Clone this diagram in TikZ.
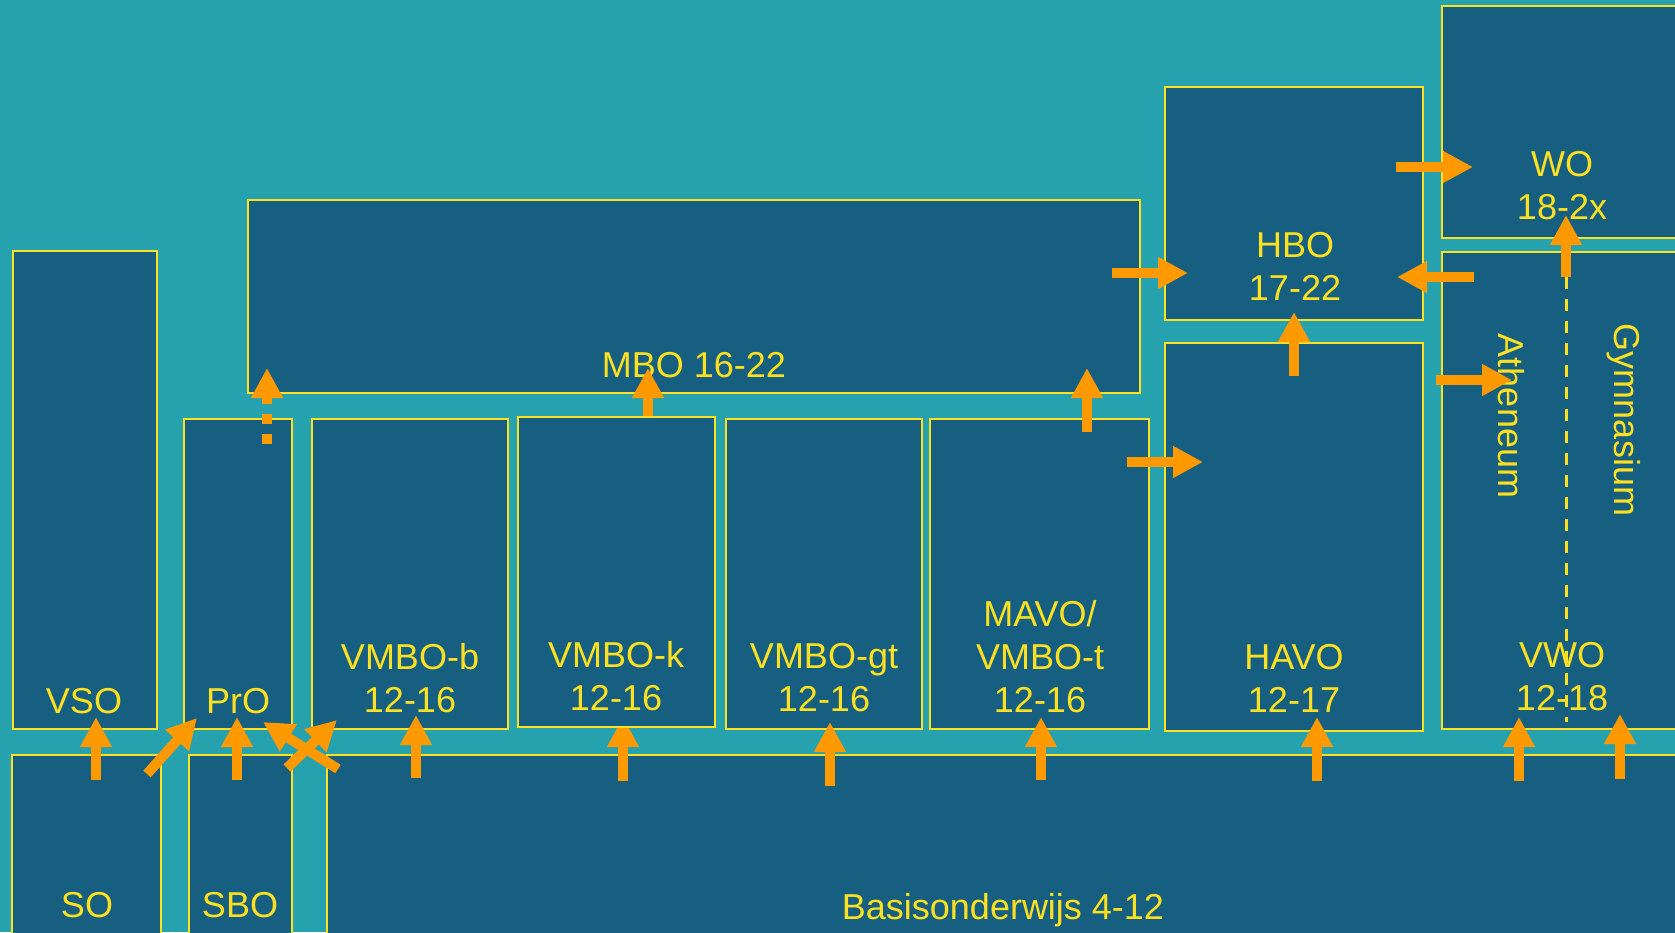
\documentclass[tikz,border=0pt]{standalone}
\usepackage{fontspec}
\setmainfont{Liberation Sans}
\usetikzlibrary{arrows.meta,calc}
\definecolor{bgteal}{HTML}{26A1AE}
\definecolor{boxblue}{HTML}{165F80}
\definecolor{ylw}{HTML}{FDE021}
\definecolor{org}{HTML}{FF9900}
\begin{document}
\begin{tikzpicture}[x=1pt,y=-1pt,
  box/.style={draw=ylw, fill=boxblue, line width=1.5pt, inner sep=0pt, outer sep=0pt},
  thickbox/.style={box, line width=2.6pt},
  lbl/.style={text=ylw, font=\fontsize{36}{43}\selectfont, inner sep=0pt, align=center},
  arr/.style={draw=org, line width=10pt, -{Triangle[width=30pt,length=30pt]}},
  dotarr/.style={arr, dash pattern=on 10pt off 10pt},
  vline/.style={draw=ylw, line width=3pt, dash pattern=on 12pt off 10pt}]
\useasboundingbox (0,0) rectangle (1675,932);
\clip (0,0) rectangle (1675,932);
\fill[bgteal] (0,0) rectangle (1675,932);

% arrow end points
\coordinate (a1s) at (96,780);   \coordinate (a1e) at (96,717);
\coordinate (a2s) at (147,774);  \coordinate (a2e) at (197,718);
\coordinate (a3s) at (237,780);  \coordinate (a3e) at (237,717);
\coordinate (a4s) at (338,769);  \coordinate (a4e) at (263,722);
\coordinate (a5s) at (287,768);  \coordinate (a5e) at (337,720);
\coordinate (a6s) at (416,778);  \coordinate (a6e) at (416,715);
\coordinate (a7s) at (623,781);  \coordinate (a7e) at (623,717);
\coordinate (a8s) at (830,786);  \coordinate (a8e) at (830,722);
\coordinate (a9s) at (1041,780); \coordinate (a9e) at (1041,717);
\coordinate (a10s) at (1317,781); \coordinate (a10e) at (1317,717);
\coordinate (a11s) at (1519,781); \coordinate (a11e) at (1519,717);
\coordinate (a12s) at (1620,779); \coordinate (a12e) at (1620,714);
\coordinate (b1s) at (267,444);  \coordinate (b1e) at (267,368);
\coordinate (b2s) at (648,416);  \coordinate (b2e) at (648,368);
\coordinate (b3s) at (1087,432); \coordinate (b3e) at (1087,368);
\coordinate (b4s) at (1112,273); \coordinate (b4e) at (1188,273);
\coordinate (b5s) at (1127,462); \coordinate (b5e) at (1203,462);
\coordinate (b6s) at (1294,376); \coordinate (b6e) at (1294,312);
\coordinate (b7s) at (1396,167); \coordinate (b7e) at (1473,167);
\coordinate (b8s) at (1474,277); \coordinate (b8e) at (1397,277);
\coordinate (b9s) at (1436,380); \coordinate (b9e) at (1512,380);
\coordinate (b10s) at (1566,277); \coordinate (b10e) at (1566,215);
\coordinate (dvb) at (1566,722);

% boxes
\node[box, minimum width=144pt, minimum height=478pt] (vso) at (85,490) {};
\node[box, minimum width=108pt, minimum height=310pt] (pro) at (238,574) {};
\node[box, minimum width=892pt, minimum height=193pt] (mbo) at (694,296.5) {};
\node[box, minimum width=196pt, minimum height=310pt] (vb) at (410,574) {};
\node[box, minimum width=196pt, minimum height=310pt] (vgt) at (824,574) {};
\node[box, minimum width=219pt, minimum height=310pt] (mavo) at (1039.5,574) {};
\node[box, minimum width=258pt, minimum height=233pt] (hbo) at (1294,203.5) {};
\node[box, minimum width=258pt, minimum height=388pt] (havo) at (1294,537) {};
\node[box, minimum width=248pt, minimum height=232pt] (wo) at (1566,122) {};
\node[box, minimum width=248pt, minimum height=477pt] (vwo) at (1566,490.5) {};
\node[thickbox, minimum width=149pt, minimum height=205pt] (so) at (86.5,857.5) {};
\node[thickbox, minimum width=103pt, minimum height=205pt] (sbo) at (240.5,857.5) {};
\node[box, line width=2.2pt, minimum width=1373pt, minimum height=205pt] (basis) at (1013.5,857.5) {};

% arrow partly hidden behind VMBO-k
\draw[arr] (a7s) -- (a7e);
\node[box, minimum width=197pt, minimum height=310pt] (vk) at (616.5,572) {};

% labels
\node[lbl, anchor=base] (vsoT) at (84,713) {VSO};
\node[lbl, anchor=base] (proT) at (238,713) {PrO};
\node[lbl, anchor=base] (mboT) at (694,377) {MBO 16-22};
\node[lbl, anchor=north] (vbT) at (410,643) {VMBO-b\\12-16};
\node[lbl, anchor=north] (vkT) at (616,641) {VMBO-k\\12-16};
\node[lbl, anchor=north] (vgtT) at (824,643) {VMBO-gt\\12-16};
\node[lbl, anchor=north] (mavoT) at (1040,600) {MAVO/\\VMBO-t\\12-16};
\node[lbl, anchor=north] (havoT) at (1294,644) {HAVO\\12-17};
\node[lbl, anchor=north] (vwoT) at (1562,642) {VWO\\12-18};
\node[lbl, anchor=north] (hboT) at (1295,232) {HBO\\17-22};
\node[lbl, anchor=north] (woT) at (1562,151) {WO\\18-2x};
\node[lbl, rotate=-90] (athT) at (1511,416) {Atheneum};
\node[lbl, rotate=-90] (gymT) at (1624,420) {Gymnasium};
\node[lbl, anchor=base] (soT) at (87,917) {SO};
\node[lbl, anchor=base] (sboT) at (240,917) {SBO};
\node[lbl, anchor=base] (basisT) at (1003,919) {Basisonderwijs 4-12};

% dashed separator in VWO
\draw[vline] (b10s) -- (dvb);

% arrows
\draw[arr] (a1s) -- (a1e);
\draw[arr] (a2s) -- (a2e);
\draw[arr] (a3s) -- (a3e);
\draw[arr] (a4s) -- (a4e);
\draw[arr] (a5s) -- (a5e);
\draw[arr] (a6s) -- (a6e);
\draw[arr] (a8s) -- (a8e);
\draw[arr] (a9s) -- (a9e);
\draw[arr] (a10s) -- (a10e);
\draw[arr] (a11s) -- (a11e);
\draw[arr] (a12s) -- (a12e);
\draw[dotarr] (b1s) -- (b1e);
\draw[arr] (b2s) -- (b2e);
\draw[arr] (b3s) -- (b3e);
\draw[arr] (b4s) -- (b4e);
\draw[arr] (b5s) -- (b5e);
\draw[arr] (b6s) -- (b6e);
\draw[arr] (b7s) -- (b7e);
\draw[arr] (b8s) -- (b8e);
\draw[arr] (b9s) -- (b9e);
\draw[arr] (b10s) -- (b10e);
\end{tikzpicture}
\end{document}
